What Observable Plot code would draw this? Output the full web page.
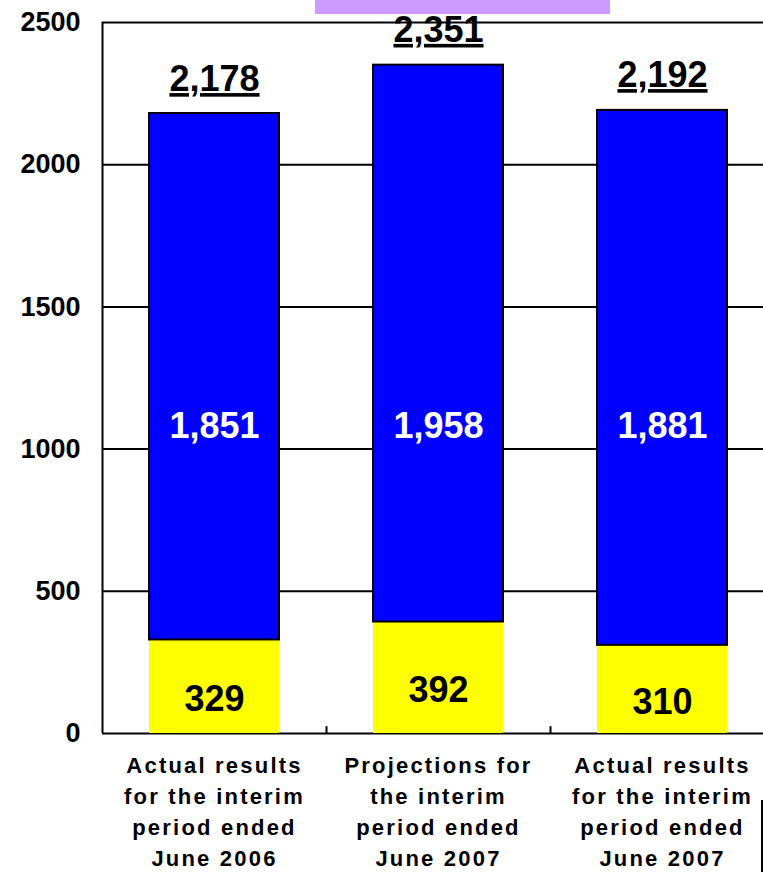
<!DOCTYPE html>
<html>
<head>
<meta charset="utf-8">
<script src="https://cdn.jsdelivr.net/npm/d3@7"></script>
<script src="https://cdn.jsdelivr.net/npm/@observablehq/plot@0.6"></script>
<style>
  html, body { margin: 0; padding: 0; background: #fff; overflow: hidden; }
  #wrap { position: relative; width: 763px; height: 872px; }
  #wrap svg { display: block; }
  .title-band { position: absolute; left: 315px; top: 0; width: 295px; height: 14px; background: #cc99ff; }
  .edge-mark { position: absolute; left: 761px; top: 800px; width: 2px; height: 72px; background: #000; }
</style>
</head>
<body>
<div id="wrap"><div class="title-band"></div><div class="edge-mark"></div></div>
<script>
// Periods shown on the x axis
const categories = [
  "Actual results\nfor the interim\nperiod ended\nJune 2006",
  "Projections for\nthe interim\nperiod ended\nJune 2007",
  "Actual results\nfor the interim\nperiod ended\nJune 2007"
];
// Lower (yellow) and upper (blue) segments, and the stated totals
const lowerSegment = [329, 392, 310];
const upperSegment = [1851, 1958, 1881];
const totals = [2178, 2351, 2192];
// y-axis tick values
const yTicks = [0, 500, 1000, 1500, 2000, 2500];

const rows = categories.map((category, i) => ({
  category,
  lower: lowerSegment[i],
  upper: upperSegment[i],
  total: totals[i]
}));

// The plot area runs past the right edge of the page
const xRange = [102, 774];
const step = (xRange[1] - xRange[0]) / categories.length;
const barInset = 47;
const upperLabelLevel = 1080;

const chart = Plot.plot({
  width: 763,
  height: 872,
  marginLeft: 102,
  marginRight: 0,
  marginTop: 22,
  marginBottom: 139,
  style: {
    fontFamily: "'Liberation Sans', Arial, sans-serif",
    fontWeight: "bold",
    fontSize: "27px",
    color: "black",
    background: "white"
  },
  x: { domain: categories, range: xRange, padding: 0, axis: null },
  y: { domain: [0, 2500], ticks: yTicks, tickSize: 0, tickPadding: 22, tickFormat: "d", label: null },
  marks: [
    Plot.ruleY(yTicks, { stroke: "black", strokeWidth: 2 }),
    Plot.barY(rows, {
      x: "category", y1: 0, y2: "lower",
      fill: "#ffff00", insetLeft: barInset, insetRight: barInset
    }),
    Plot.barY(rows, {
      x: "category", y1: "lower", y2: d => d.lower + d.upper,
      fill: "#0000ff", stroke: "black", strokeWidth: 2,
      insetLeft: barInset, insetRight: barInset
    }),
    // left axis line and category separators along the baseline
    Plot.ruleX(categories, {
      x: d => d, dx: -step / 2,
      y1: 0, y2: (d, i) => (i === 0 ? 2500 : 24),
      stroke: "black", strokeWidth: 2
    }),
    Plot.text(rows, {
      x: "category", y: d => d.lower / 2, dy: 13,
      text: d => d3.format(",")(d.lower),
      fontSize: 36, fill: "black"
    }),
    Plot.text(rows, {
      x: "category", y: () => upperLabelLevel,
      text: d => d3.format(",")(d.upper),
      fontSize: 36, fill: "white"
    }),
    Plot.text(rows, {
      x: "category", y: "total", dy: -23, lineAnchor: "bottom",
      text: d => d3.format(",")(d.total),
      fontSize: 36, fill: "black"
    }),
    Plot.text(rows, {
      x: "category", y: 0, dy: 17, lineAnchor: "top", lineHeight: 1.41,
      text: "category",
      fontSize: 22, fill: "black"
    })
  ]
});

// text mark groups, in mark order: lower, upper, totals, category labels
const textGroups = d3.select(chart).selectAll('g[aria-label="text"]').nodes();
const totalGroup = textGroups[textGroups.length - 2];
const categoryGroup = textGroups[textGroups.length - 1];
d3.select(totalGroup).selectAll("text").style("text-decoration", "underline");
d3.select(categoryGroup).selectAll("text, tspan").style("letter-spacing", "2.2px");

document.getElementById("wrap").prepend(chart);
</script>
</body>
</html>
